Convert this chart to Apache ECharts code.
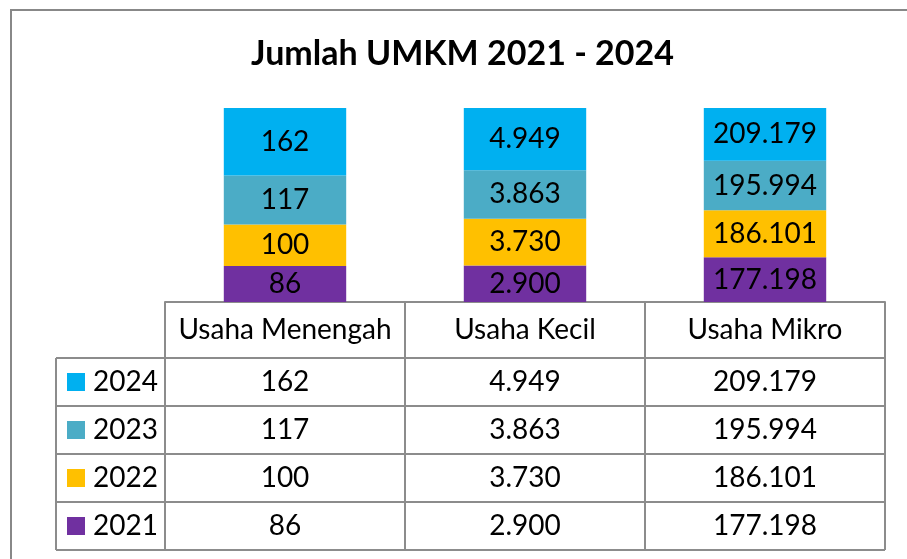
<!DOCTYPE html>
<html>
<head>
<meta charset="utf-8">
<script src="https://cdn.jsdelivr.net/npm/echarts@6/dist/echarts.min.js"></script>
<style>
  html, body { margin: 0; padding: 0; background: #fff; }
  #chart { width: 907px; height: 559px; }
</style>
</head>
<body>
<div id="chart"></div>
<script>
// data
const categories = ['Usaha Menengah', 'Usaha Kecil', 'Usaha Mikro'];
const years = ['2021', '2022', '2023', '2024'];
const y2021 = [86, 2900, 177198];
const y2022 = [100, 3730, 186101];
const y2023 = [117, 3863, 195994];
const y2024 = [162, 4949, 209179];
const colors = ['#7030A0', '#FFC000', '#4BACC6', '#00B0F0'];

const yearValues = [y2021, y2022, y2023, y2024];
const totals = categories.map((c, i) => yearValues.reduce((s, arr) => s + arr[i], 0));

// 1.234 style thousands separator
const fmt = v => String(v).replace(/\B(?=(\d{3})+(?!\d))/g, '.');

const FONT = 'Lato';
const FS = 28;
const LINE = '#8c8c8c';

const chart = echarts.init(document.getElementById('chart'));

const series = years.map((y, k) => ({
  name: y,
  type: 'bar',
  stack: 'total',
  barWidth: '51%',
  data: yearValues[k].map((v, i) => v / totals[i] * 100),
  itemStyle: { color: colors[k] },
  label: {
    show: true,
    position: 'inside',
    color: '#000',
    fontFamily: FONT,
    fontSize: FS,
    formatter: p => fmt(yearValues[k][p.dataIndex])
  }
}));

// table geometry
const tLeft = 56, tCol = 165, tRight = 885;
const colW = (tRight - tCol) / categories.length;
const headTop = 302, rowTop = 358, rowH = 48;
const graphics = [];

// outer chart border
graphics.push({
  type: 'rect', shape: { x: 11, y: 10, width: 910, height: 560 },
  style: { fill: null, stroke: '#888', lineWidth: 2 }, silent: true
});

// table lines
const hl = (x1, x2, y) => graphics.push({ type: 'line', shape: { x1, y1: y, x2, y2: y }, style: { stroke: LINE, lineWidth: 2 } });
const vl = (x, y1, y2) => graphics.push({ type: 'line', shape: { x1: x, y1, x2: x, y2 }, style: { stroke: LINE, lineWidth: 2 } });
const rowsOrder = [3, 2, 1, 0]; // 2024 on top
const tBottom = rowTop + rowH * rowsOrder.length;
for (let r = 0; r <= rowsOrder.length; r++) hl(tLeft, tRight, rowTop + r * rowH);
vl(tLeft, rowTop, tBottom);
for (let c = 0; c <= categories.length; c++) vl(tCol + c * colW, headTop, tBottom);

rowsOrder.forEach((k, r) => {
  const cy = rowTop + r * rowH + rowH / 2;
  graphics.push({ type: 'rect', shape: { x: 67, y: cy - 9, width: 18, height: 18 }, style: { fill: colors[k] } });
  graphics.push({
    type: 'text', x: 93, y: cy,
    style: { text: years[k], fontFamily: FONT, fontSize: FS, fill: '#000', verticalAlign: 'middle' }
  });
  categories.forEach((c, i) => {
    graphics.push({
      type: 'text', x: tCol + colW * i + colW / 2, y: cy,
      style: { text: fmt(yearValues[k][i]), fontFamily: FONT, fontSize: FS, fill: '#000', align: 'center', verticalAlign: 'middle' }
    });
  });
});

const option = {
  animation: false,
  title: {
    text: 'Jumlah UMKM 2021 - 2024',
    left: 246,
    top: 32,
    textStyle: { fontFamily: FONT, fontSize: 34, fontWeight: 'bold', color: '#000' }
  },
  grid: { left: tCol, right: 907 - tRight, top: 108, bottom: 559 - headTop },
  xAxis: {
    type: 'category',
    data: categories,
    axisLine: { show: true, lineStyle: { color: LINE, width: 2 } },
    axisTick: { show: false },
    axisLabel: { interval: 0, color: '#000', fontFamily: FONT, fontSize: FS, margin: 14 }
  },
  yAxis: {
    type: 'value', min: 0, max: 100, show: false,
    splitLine: { show: false }
  },
  series: series,
  graphic: graphics
};

chart.setOption(option);
</script>
</body>
</html>
